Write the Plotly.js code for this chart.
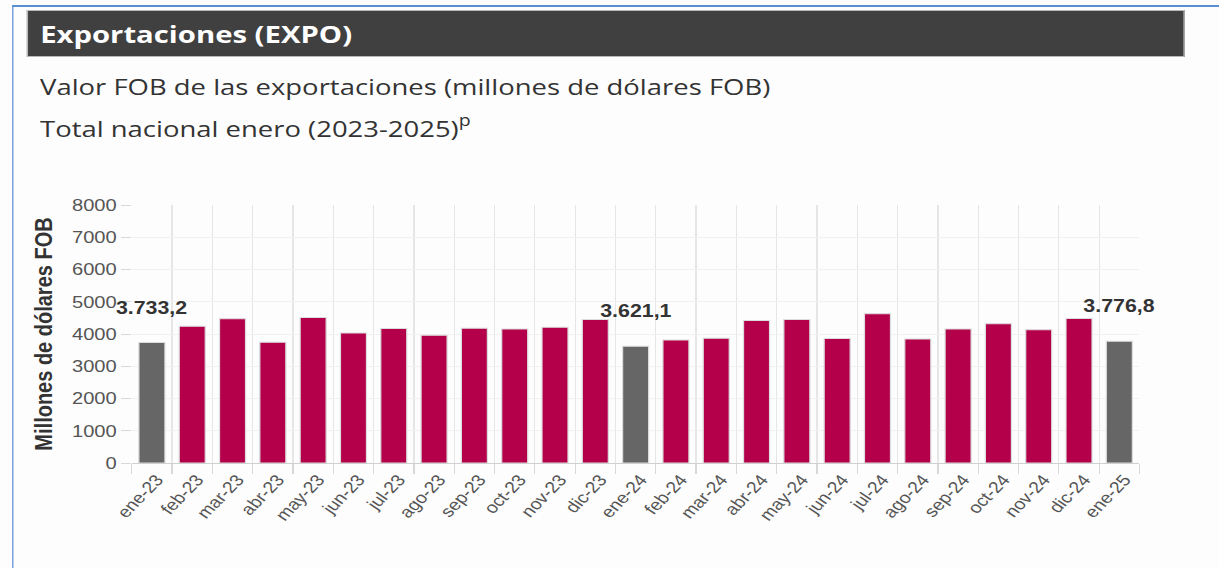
<!DOCTYPE html>
<html>
<head>
<meta charset="utf-8">
<script src="https://cdn.plot.ly/plotly-3.0.1.min.js"></script>
<style>
  html, body { margin:0; padding:0; background:#fdfdfd; width:1219px; height:568px; overflow:hidden; }
  /* the reference is rendered slightly wider than tall: reproduce with a horizontal scale */
  #page { position:absolute; left:0; top:0; width:999.2px; height:568px; transform:scaleX(1.22); transform-origin:0 0; }
  #frame { position:absolute; left:9.8px; top:5px; width:1100px; height:700px; border-top:2px solid #5b8dd3; border-left:1.7px solid #5b8dd3; box-sizing:border-box; }
  #header { position:absolute; left:22.1px; top:10px; width:949.2px; height:47px; background:#404040; border:1px solid #b8b8b8; box-sizing:border-box; }
  #header span { position:absolute; left:9.8px; top:6px; font-family:"Open Sans", sans-serif; font-weight:700; font-size:24px; color:#ffffff; white-space:nowrap; }
  .sub { position:absolute; left:32.8px; font-family:"Open Sans", sans-serif; font-size:22.5px; color:#333333; white-space:nowrap; }
  .sub sup { font-size:16px; position:relative; top:-2px; }
  #chart { position:absolute; left:0; top:0; width:999.2px; height:568px; }
</style>
</head>
<body>
<div id="page">
<div id="frame"></div>
<div id="header"><span>Exportaciones (EXPO)</span></div>
<div class="sub" style="top:71px;">Valor FOB de las exportaciones (millones de dólares FOB)</div>
<div class="sub" style="top:111px;">Total nacional enero (2023-2025)<sup>p</sup></div>
<div id="chart"></div>
</div>
<script>
// Data
var months = ["ene-23","feb-23","mar-23","abr-23","may-23","jun-23","jul-23","ago-23","sep-23","oct-23","nov-23","dic-23",
              "ene-24","feb-24","mar-24","abr-24","may-24","jun-24","jul-24","ago-24","sep-24","oct-24","nov-24","dic-24","ene-25"];
var values = [3733.2, 4243, 4470, 3745, 4511, 4034, 4169, 3962, 4179, 4158, 4211, 4448,
              3621.1, 3817, 3869, 4417, 4448, 3858, 4625, 3848, 4158, 4314, 4128, 4479, 3776.8];
var highlighted = ["ene-23","ene-24","ene-25"];
var yTitle = "Millones de dólares FOB";

var RED = "#B4004B", GRAY = "#666666";
var colors = months.map(function(m){ return highlighted.indexOf(m) >= 0 ? GRAY : RED; });

function fmtEs(v){
  var s = v.toFixed(1).split(".");
  var intPart = s[0].replace(/\B(?=(\d{3})+(?!\d))/g, ".");
  return intPart + "," + s[1];
}

var annotations = highlighted.map(function(m){
  var v = values[months.indexOf(m)];
  return {x:m, y:v, xref:"x", yref:"y", text:fmtEs(v), showarrow:false,
          yanchor:"middle", yshift:35,
          font:{family:"Liberation Sans, Arial, sans-serif", size:17.5, color:"#333333", weight:"bold"}};
});

var trace = {
  type:"bar", x:months, y:values,
  marker:{color:colors, line:{color:"#dcdcdc", width:1}},
  hoverinfo:"x+y"
};

var layout = {
  width:999.2, height:568,
  margin:{l:108.2, r:64.8, t:205, b:105, pad:0},
  paper_bgcolor:"rgba(0,0,0,0)", plot_bgcolor:"rgba(0,0,0,0)",
  showlegend:false,
  bargap:0.355,
  xaxis:{type:"category", range:[-0.5, months.length - 0.5], autorange:false,
         tickson:"boundaries", ticks:"outside", ticklen:10, tickcolor:"#d8d8d8",
         showgrid:true, gridcolor:"#e6e6e6", showline:true, linecolor:"#d0d0d0", linewidth:1,
         tickangle:-51, ticklabelshift:4,
         tickfont:{family:"Liberation Sans, Arial, sans-serif", size:16, color:"#555555"},
         automargin:false, fixedrange:true},
  yaxis:{range:[0,8000], dtick:1000, ticks:"outside", ticklen:8, tickcolor:"#d8d8d8",
         showgrid:true, gridcolor:"#f1f1f1", zeroline:false, showline:false,
         tickfont:{family:"Liberation Sans, Arial, sans-serif", size:16.5, color:"#555555"},
         title:{text:yTitle, standoff:10, font:{family:"Liberation Sans, Arial, sans-serif", size:20, color:"#333333", weight:"bold"}},
         automargin:false, fixedrange:true},
  annotations:annotations
};

Plotly.newPlot("chart", [trace], layout, {displayModeBar:false, staticPlot:true});
</script>
</body>
</html>
